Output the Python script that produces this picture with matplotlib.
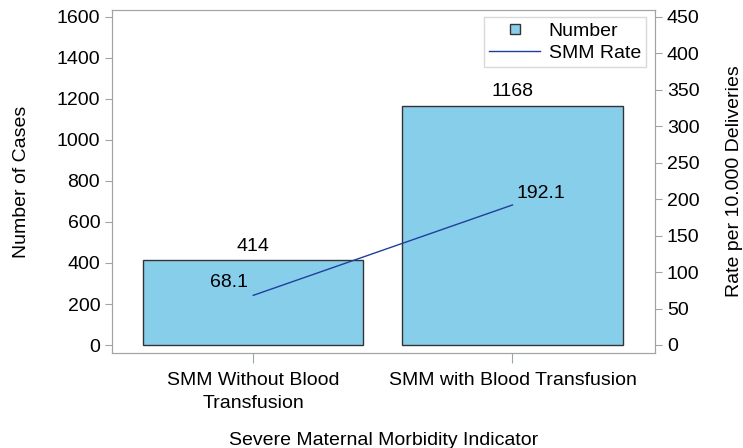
import matplotlib
matplotlib.use("Agg")
import matplotlib.pyplot as plt
from matplotlib.lines import Line2D

plt.rcParams['font.family'] = ['Liberation Sans', 'DejaVu Sans']
plt.rcParams['font.size'] = 14

# Data
categories = ["SMM Without Blood\nTransfusion", "SMM with Blood Transfusion"]
cases = [414, 1168]
rates = [68.1, 192.1]

BAR_COLOR = "#87CEEB"
LINE_COLOR = "#1f3f9f"
AXIS_GREY = "#a0a4a8"

fig = plt.figure(figsize=(7.43, 4.48), dpi=100)
ax = fig.add_axes([112 / 743, 1 - 353 / 448, (655 - 112) / 743, (353 - 10) / 448])
ax2 = ax.twinx()

x = list(range(len(categories)))
ax.bar(x, cases, width=0.85, color=BAR_COLOR, edgecolor="#333333", linewidth=1.0, zorder=2)
for xi, v in zip(x, cases):
    ax.annotate(str(v), (xi, v), xytext=(0, 4), textcoords="offset points",
                ha="center", va="bottom", fontsize=14)

ax2.plot(x, rates, color=LINE_COLOR, linewidth=1.0)
ax2.annotate(f"{rates[0]}", (x[0], rates[0]), xytext=(-4, 3), textcoords="offset points",
             ha="right", va="bottom", fontsize=14)
ax2.annotate(f"{rates[1]}", (x[1], rates[1]), xytext=(3, 2), textcoords="offset points",
             ha="left", va="bottom", fontsize=14)

ax.set_xlim(-0.545, 1.55)
ax.set_ylim(-39, 1634)
ax2.set_ylim(-11, 459.6)
ax.set_yticks(range(0, 1601, 200))
ax2.set_yticks(range(0, 451, 50))
ax.set_xticks(x)
ax.set_xticklabels(categories, linespacing=1.45)

for a in (ax, ax2):
    for s in a.spines.values():
        s.set_color(AXIS_GREY)
    a.tick_params(colors=AXIS_GREY, labelcolor="black", length=5, direction="out", labelsize=14)
ax.tick_params(axis="x", length=7, pad=7)

ax.set_xlabel("Severe Maternal Morbidity Indicator", labelpad=14)
ax.set_ylabel("Number of Cases", labelpad=19)
ax2.set_ylabel("Rate per 10.000 Deliveries", labelpad=19)

handles = [
    Line2D([], [], marker="s", linestyle="none", markerfacecolor=BAR_COLOR,
           markeredgecolor="#333333", markersize=7),
    Line2D([], [], color=LINE_COLOR, linewidth=1.0),
]
leg = ax2.legend(handles, ["Number", "SMM Rate"], loc="upper right",
                 bbox_to_anchor=(0.99, 0.99), frameon=True, fancybox=False,
                 handlelength=2.6, handletextpad=0.45, borderpad=0.25,
                 labelspacing=0.25, borderaxespad=0.2, fontsize=14)
leg.get_frame().set_edgecolor("#d0d0d0")
leg.get_frame().set_linewidth(1.0)

fig.savefig("out.png", dpi=100)
